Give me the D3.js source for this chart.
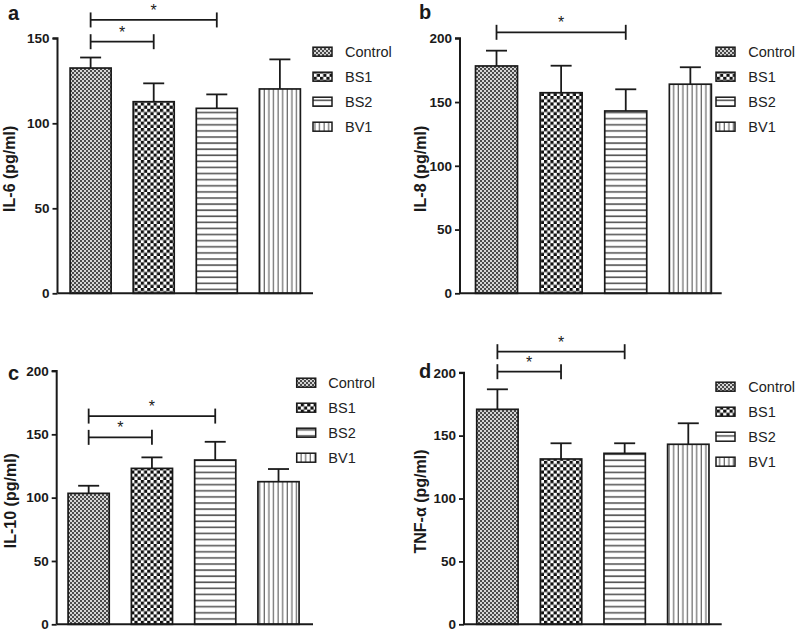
<!DOCTYPE html>
<html>
<head>
<meta charset="utf-8">
<script src="https://cdn.jsdelivr.net/npm/d3@7/dist/d3.min.js"></script>
<style>
  html, body { margin: 0; padding: 0; background: #fff; }
  svg { display: block; font-family: "Liberation Sans", Arial, sans-serif; }
</style>
</head>
<body>
<svg id="chart" width="797" height="632"></svg>
<script>
// ---------- data ----------
const groups = ["Control", "BS1", "BS2", "BV1"];

const il6Mean = [132.5, 112.7, 108.8, 120.2];
const il6Err  = [6.2, 10.8, 8.2, 17.4];

const il8Mean = [178.3, 157.3, 143.0, 164.0];
const il8Err  = [12.0, 21.2, 17.0, 13.3];

const il10Mean = [103.4, 123.1, 129.7, 112.6];
const il10Err  = [6.0, 8.7, 14.4, 10.0];

const tnfMean = [170.9, 131.4, 135.9, 143.1];
const tnfErr  = [15.9, 12.5, 8.0, 16.7];

// significance brackets: [from group index, to group index, level (data units)]
const il6Sig  = [[0, 2, 160.8], [0, 1, 148.0]];
const il8Sig  = [[0, 2, 204.7]];
const il10Sig = [[0, 2, 164.4], [0, 1, 147.6]];
const tnfSig  = [[0, 2, 216.7], [0, 1, 200.8]];

const il6Ticks = [0, 50, 100, 150];
const il8Ticks = [0, 50, 100, 150, 200];
const il10Ticks = [0, 50, 100, 150, 200];
const tnfTicks = [0, 50, 100, 150, 200];

const panelLetters = ["a", "b", "c", "d"];
const yTitles = ["IL-6 (pg/ml)", "IL-8 (pg/ml)", "IL-10 (pg/ml)", "TNF-\u03b1 (pg/ml)"];

// ---------- layout ----------
const panels = [
  { letter: panelLetters[0], title: yTitles[0], mean: il6Mean, err: il6Err, sig: il6Sig, ticks: il6Ticks, max: 150,
    ax: 57.5, xEnd: 313, yTop: 38.3, yBot: 293.3, align: 0.5,
    letterX: 4, letterY: 20, titleX: 15,
    legSw: 313, legTx: 345, legY: 51.7 },
  { letter: panelLetters[1], title: yTitles[1], mean: il8Mean, err: il8Err, sig: il8Sig, ticks: il8Ticks, max: 200,
    ax: 460, xEnd: 721.7, yTop: 38.3, yBot: 293.3, align: 0.6,
    letterX: 415, letterY: 18.5, titleX: 426,
    legSw: 716, legTx: 748.3, legY: 51.7 },
  { letter: panelLetters[2], title: yTitles[2], mean: il10Mean, err: il10Err, sig: il10Sig, ticks: il10Ticks, max: 200,
    ax: 56.7, xEnd: 313, yTop: 371, yBot: 624.3, align: 0.45,
    letterX: 4, letterY: 380, titleX: 16,
    legSw: 296.7, legTx: 328.3, legY: 382.7 },
  { letter: panelLetters[3], title: yTitles[3], mean: tnfMean, err: tnfErr, sig: tnfSig, ticks: tnfTicks, max: 200,
    ax: 464, xEnd: 721.7, yTop: 372.7, yBot: 624.3, align: 0.5,
    letterX: 415, letterY: 378, titleX: 426,
    legSw: 716, legTx: 748.3, legY: 386.7 }
];

const svg = d3.select("#chart");
const defs = svg.append("defs");

// patterns
const pc = defs.append("pattern").attr("id", "pControl").attr("patternUnits", "userSpaceOnUse")
  .attr("width", 4).attr("height", 4);
pc.append("rect").attr("width", 4).attr("height", 4).attr("fill", "#d4d4d4");
pc.append("rect").attr("x", 0).attr("y", 0).attr("width", 2).attr("height", 2).attr("fill", "#4a4a4a");
pc.append("rect").attr("x", 2).attr("y", 2).attr("width", 2).attr("height", 2).attr("fill", "#4a4a4a");

const p1 = defs.append("pattern").attr("id", "pBS1").attr("patternUnits", "userSpaceOnUse")
  .attr("width", 6.4).attr("height", 6.4);
p1.append("rect").attr("width", 6.4).attr("height", 6.4).attr("fill", "#fff");
p1.append("rect").attr("x", 0).attr("y", 0).attr("width", 3.2).attr("height", 3.2).attr("fill", "#111");
p1.append("rect").attr("x", 3.2).attr("y", 3.2).attr("width", 3.2).attr("height", 3.2).attr("fill", "#111");

const p2 = defs.append("pattern").attr("id", "pBS2").attr("patternUnits", "userSpaceOnUse")
  .attr("width", 6).attr("height", 6.1);
p2.append("rect").attr("width", 6).attr("height", 6.1).attr("fill", "#fff");
p2.append("rect").attr("x", 0).attr("y", 2).attr("width", 6).attr("height", 1.6).attr("fill", "#555");

const p3 = defs.append("pattern").attr("id", "pBV1").attr("patternUnits", "userSpaceOnUse")
  .attr("width", 4.6).attr("height", 6);
p3.append("rect").attr("width", 4.6).attr("height", 6).attr("fill", "#fff");
p3.append("rect").attr("x", 1.5).attr("y", 0).attr("width", 1.2).attr("height", 6).attr("fill", "#666");

const fills = ["url(#pControl)", "url(#pBS1)", "url(#pBS2)", "url(#pBV1)"];
const ink = "#1a1a1a";

panels.forEach(p => {
  const g = svg.append("g");
  const x = d3.scaleBand().domain(groups).range([p.ax, p.xEnd])
    .paddingInner(0.35).paddingOuter(0.2).align(p.align);
  const y = d3.scaleLinear().domain([0, p.max]).range([p.yBot, p.yTop]);

  const rows = groups.map((k, i) => ({ k, i, m: p.mean[i], e: p.err[i] }));

  // error bars (upper only), drawn beneath bars
  const eb = g.append("g");
  rows.forEach(r => {
    const cx = x(r.k) + x.bandwidth() / 2;
    eb.append("line").attr("x1", cx).attr("x2", cx).attr("y1", y(r.m)).attr("y2", y(r.m + r.e))
      .attr("stroke", ink).attr("stroke-width", 1.8);
    eb.append("line").attr("x1", cx - 10.5).attr("x2", cx + 10.5).attr("y1", y(r.m + r.e)).attr("y2", y(r.m + r.e))
      .attr("stroke", ink).attr("stroke-width", 1.8);
  });

  // bars
  g.append("g").selectAll("rect").data(rows).join("rect")
    .attr("x", d => x(d.k))
    .attr("y", d => y(d.m))
    .attr("width", x.bandwidth())
    .attr("height", d => y(0) - y(d.m))
    .attr("fill", d => fills[d.i])
    .attr("stroke", ink).attr("stroke-width", 1.7);

  // y axis
  const yAxis = d3.axisLeft(y).tickValues(p.ticks).tickSize(5).tickPadding(3).tickFormat(d3.format("d"));
  const ya = g.append("g").attr("transform", `translate(${p.ax},0)`).call(yAxis);
  ya.select(".domain").attr("stroke", ink).attr("stroke-width", 2).attr("d", `M-5,${p.yTop}H0V${p.yBot}`);
  ya.selectAll(".tick line").attr("stroke", ink).attr("stroke-width", 1.8);
  ya.selectAll(".tick text").attr("font-size", 13.5).attr("font-weight", "bold").attr("fill", ink)
    .attr("font-family", "'Liberation Sans', Arial, sans-serif");

  // x axis (line only)
  const xAxis = d3.axisBottom(x).tickSize(0).tickFormat("");
  const xa = g.append("g").attr("transform", `translate(0,${p.yBot})`).call(xAxis);
  xa.select(".domain").attr("stroke", ink).attr("stroke-width", 2).attr("d", `M${p.ax},0H${p.xEnd}`);

  // significance brackets
  p.sig.forEach(s => {
    const x1 = x(groups[s[0]]) + x.bandwidth() / 2;
    const x2 = x(groups[s[1]]) + x.bandwidth() / 2;
    const yy = y(s[2]);
    const sg = g.append("g").attr("stroke", ink).attr("stroke-width", 1.8);
    sg.append("line").attr("x1", x1).attr("x2", x2).attr("y1", yy).attr("y2", yy);
    sg.append("line").attr("x1", x1).attr("x2", x1).attr("y1", yy - 7.5).attr("y2", yy + 7.5);
    sg.append("line").attr("x1", x2).attr("x2", x2).attr("y1", yy - 7.5).attr("y2", yy + 7.5);
    g.append("text").attr("x", (x1 + x2) / 2).attr("y", yy - 4)
      .attr("text-anchor", "middle").attr("font-size", 16).attr("fill", ink).text("*");
  });

  // panel letter
  g.append("text").attr("x", p.letterX + 4).attr("y", p.letterY)
    .attr("font-size", 20).attr("font-weight", "bold").attr("fill", ink).text(p.letter);

  // y title
  g.append("text")
    .attr("transform", `translate(${p.titleX},${(p.yTop + p.yBot) / 2 + 3}) rotate(-90)`)
    .attr("text-anchor", "middle").attr("font-size", 16).attr("font-weight", "bold").attr("fill", ink)
    .text(p.title);

  // legend
  const lg = g.append("g");
  groups.forEach((k, i) => {
    const cy = p.legY + i * 25;
    lg.append("rect").attr("x", p.legSw).attr("y", cy - 4.5).attr("width", 19).attr("height", 9)
      .attr("fill", fills[i]).attr("stroke", ink).attr("stroke-width", 1.5);
    lg.append("text").attr("x", p.legTx).attr("y", cy + 5).attr("font-size", 14.5).attr("fill", "#222").text(k);
  });
});
</script>
</body>
</html>
